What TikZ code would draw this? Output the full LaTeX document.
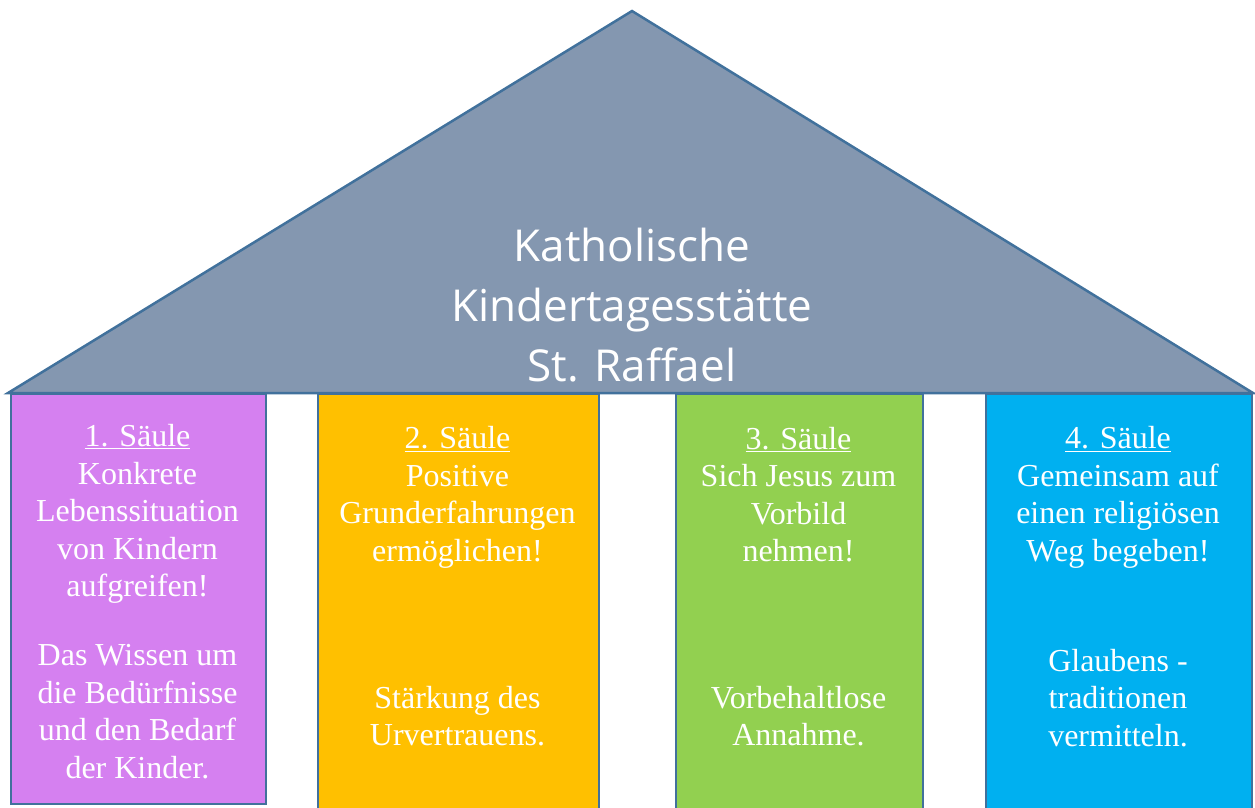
\documentclass[tikz,border=0pt]{standalone}
\usepackage{fontspec}
\setmainfont{Liberation Serif}
\newfontfamily\titlefont{Open Sans}
\definecolor{roofc}{HTML}{8497B0}
\definecolor{edgec}{HTML}{41719C}
\definecolor{c1}{HTML}{D580F0}
\definecolor{c2}{HTML}{FFC000}
\definecolor{c3}{HTML}{92D050}
\definecolor{c4}{HTML}{00B0F0}
\tikzset{
  pillar/.style={draw=edgec, line width=2pt, anchor=north west, inner sep=0pt},
  roof/.style={draw=edgec, fill=roofc, line width=2.5pt, line join=miter},
  coltext/.style={text=white, align=center, inner sep=0pt, font=\fontsize{32}{37.5}\selectfont},
  titletext/.style={text=white, align=center, inner sep=0pt, font=\titlefont\fontsize{44}{60}\selectfont}
}
\begin{document}
\begin{tikzpicture}[x=1pt,y=-1pt]
\useasboundingbox (0,0) rectangle (1255,807);
\node[pillar, fill=c1, minimum width=255pt, minimum height=410pt] (col1) at (10,393) {};
\node[pillar, fill=c2, minimum width=281pt, minimum height=425pt] (col2) at (317,393) {};
\node[pillar, fill=c3, minimum width=247pt, minimum height=425pt] (col3) at (675,393) {};
\node[pillar, fill=c4, minimum width=266pt, minimum height=425pt] (col4) at (985,393) {};
\coordinate (rl) at (8,393);
\coordinate (ra) at (632,11);
\coordinate (rr) at (1253,393);
\draw[roof] (rl) -- (ra) -- (rr) -- cycle;
\node[titletext] (title) at (632,305) {Katholische\\Kindertagesstätte\\St. Raffael};
\node[coltext] (t1a) at (137.5,514) {\underline{1. Säule}\\Konkrete\\Lebenssituation\\von Kindern\\aufgreifen!};
\node[coltext] (t1b) at (137.5,711.5) {Das Wissen um\\die Bedürfnisse\\und den Bedarf\\der Kinder.};
\node[coltext] (t2a) at (457.5,497.5) {\underline{2. Säule}\\Positive\\Grunderfahrungen\\ermöglichen!};
\node[coltext] (t2b) at (457.5,716) {Stärkung des\\Urvertrauens.};
\node[coltext] (t3a) at (798.5,494.5) {\underline{3. Säule}\\Sich Jesus zum\\Vorbild\\nehmen!};
\node[coltext] (t3b) at (798.5,716) {Vorbehaltlose\\Annahme.};
\node[coltext] (t4a) at (1118,497.5) {\underline{4. Säule}\\Gemeinsam auf\\einen religiösen\\Weg begeben!};
\node[coltext] (t4b) at (1118,698) {Glaubens -\\traditionen\\vermitteln.};
\end{tikzpicture}
\end{document}
